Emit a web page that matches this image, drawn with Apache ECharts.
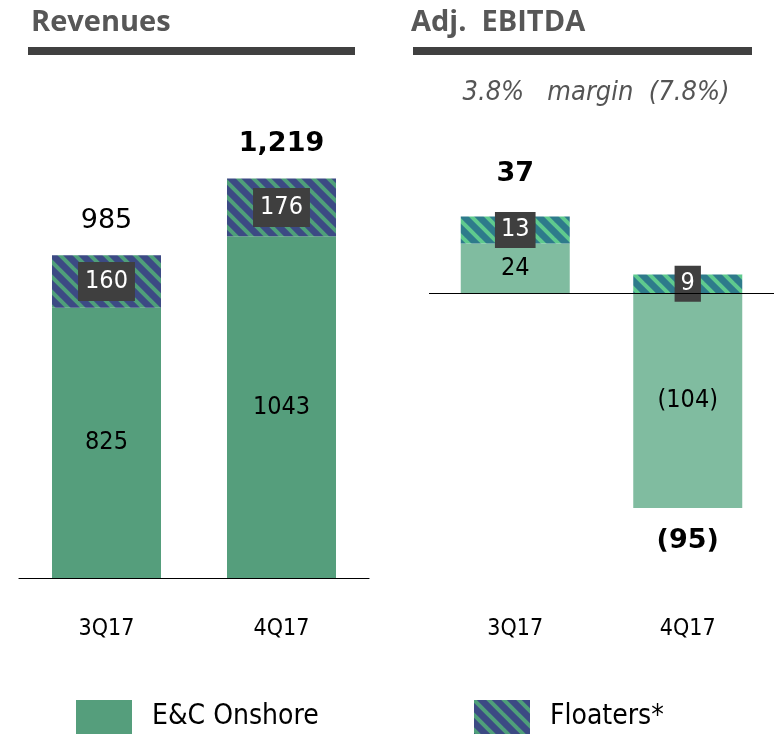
<!DOCTYPE html>
<html>
<head>
<meta charset="utf-8">
<script src="https://cdn.jsdelivr.net/npm/echarts@6/dist/echarts.min.js"></script>
<style>
  html, body { margin: 0; padding: 0; background: #fff; }
  #chart { width: 774px; height: 734px; }
</style>
</head>
<body>
<div id="chart"></div>
<script>
// Quarterly figures (€ million)
const categories = ['3Q17', '4Q17'];
const revOnshore = [825, 1043];
const revFloaters = [160, 176];
const ebitdaOnshore = [24, -104];
const ebitdaFloaters = [13, 9];
const marginText = '3.8%   margin  (7.8%)';

const COND = "'DejaVu Sans Condensed', 'Liberation Sans Narrow', 'Roboto Condensed', Roboto, sans-serif";
const SANS = "'DejaVu Sans', Verdana, sans-serif";

// Diagonal stripe fill used for the Floaters segments
function stripes(base, line, size, width) {
  const c = document.createElement('canvas');
  c.width = size; c.height = size;
  const g = c.getContext('2d');
  g.fillStyle = base;
  g.fillRect(0, 0, size, size);
  g.strokeStyle = line;
  g.lineWidth = width;
  for (const k of [-1, 0, 1]) {
    g.beginPath();
    g.moveTo(-size, -size + k * size);
    g.lineTo(2 * size, 2 * size + k * size);
    g.stroke();
  }
  return { image: c, repeat: 'repeat' };
}

const revGreen = '#559e7c';
const ebitdaGreen = '#80bca0';
const revStripes = stripes('#3c4a84', '#4f9f7a', 15, 4);
const ebitdaStripes = stripes('#2e7b8b', '#5fca8e', 15, 4);

const paren = v => (v < 0 ? '(' + Math.abs(v) + ')' : String(v));

const boxLabel = {
  show: true,
  position: 'inside',
  backgroundColor: '#3f3f3f',
  color: '#fff',
  fontFamily: COND,
  fontSize: 25,
  lineHeight: 28
};

const innerLabel = {
  show: true,
  position: 'inside',
  color: '#000',
  fontFamily: COND,
  fontSize: 25,
  formatter: p => paren(p.value)
};

// Totals: placed at the outer end of each stacked bar
function totals(onshore, floaters) {
  return categories.map((c, i) => {
    const vals = [onshore[i], floaters[i]];
    const pos = vals.filter(v => v > 0).reduce((a, b) => a + b, 0);
    const neg = vals.filter(v => v < 0).reduce((a, b) => a + b, 0);
    const total = onshore[i] + floaters[i];
    return { anchor: total >= 0 ? pos : neg, total };
  });
}

function totalSeries(list, xAxisIndex, yAxisIndex, styleFor) {
  return {
    type: 'scatter',
    xAxisIndex, yAxisIndex,
    symbolSize: 1,
    silent: true,
    z: 10,
    itemStyle: { color: 'rgba(0,0,0,0)' },
    data: list.map((t, i) => ({
      value: t.anchor,
      label: Object.assign({
        show: true,
        position: t.total >= 0 ? 'top' : 'bottom',
        color: '#000',
        opacity: 1,
        fontFamily: SANS,
        fontSize: 27,
        lineHeight: 32,
        formatter: () => t.total < 0 ? paren(t.total) : t.total.toLocaleString('en-US')
      }, styleFor(t, i))
    }))
  };
}

const revTotals = totals(revOnshore, revFloaters);
const ebitdaTotals = totals(ebitdaOnshore, ebitdaFloaters);

const chart = echarts.init(document.getElementById('chart'), null, { renderer: 'canvas' });

const titleStyle = { fontFamily: "'Open Sans', 'Noto Sans', sans-serif", fontWeight: 'bold', fontSize: 29, color: '#575757' };
const legendText = { fontFamily: COND, fontSize: 28, color: '#000', padding: [5, 0, 0, 15] };

chart.setOption({
  animation: false,
  backgroundColor: '#fff',
  title: [
    { text: 'Revenues', left: 31, top: 8, padding: 0, textStyle: titleStyle },
    { text: 'Adj.  EBITDA', left: 411, top: 8, padding: 0, textStyle: titleStyle },
    { text: marginText, left: 596, top: 79, padding: 0, textAlign: 'center',
      textStyle: { fontFamily: COND, fontStyle: 'italic', fontWeight: 'normal', fontSize: 27, color: '#555' } }
  ],
  graphic: [
    { type: 'rect', shape: { x: 28, y: 47, width: 327, height: 8 }, style: { fill: '#404040' } },
    { type: 'rect', shape: { x: 413, y: 47, width: 339, height: 8 }, style: { fill: '#404040' } }
  ],
  legend: [
    { data: ['E&C Onshore'], left: 76, top: 700, padding: 0, icon: 'rect', itemWidth: 56, itemHeight: 34,
      textStyle: legendText },
    { data: ['Floaters*'], left: 474, top: 700, padding: 0, icon: 'rect', itemWidth: 56, itemHeight: 34,
      textStyle: legendText }
  ],
  grid: [
    { left: 19, width: 350, top: 152, height: 426 },
    { left: 429, width: 350, top: 169, height: 372 }
  ],
  xAxis: [
    { type: 'category', gridIndex: 0, data: categories,
      axisLine: { lineStyle: { color: '#000', width: 1.2 } },
      axisTick: { show: false },
      axisLabel: { margin: 40, fontFamily: COND, fontSize: 23, color: '#000' } },
    { type: 'category', gridIndex: 1, data: categories,
      axisLine: { show: false, onZero: false },
      axisTick: { show: false },
      axisLabel: { margin: 77, fontFamily: COND, fontSize: 23, color: '#000' } }
  ],
  yAxis: [
    { type: 'value', gridIndex: 0, min: 0, max: 1300, show: false, splitLine: { show: false } },
    { type: 'value', gridIndex: 1, min: -120, max: 60, show: false, splitLine: { show: false } }
  ],
  series: [
    { name: 'E&C Onshore', type: 'bar', stack: 'rev', xAxisIndex: 0, yAxisIndex: 0,
      barWidth: 109, itemStyle: { color: revGreen },
      label: innerLabel, data: revOnshore },
    { name: 'Floaters*', type: 'bar', stack: 'rev', xAxisIndex: 0, yAxisIndex: 0,
      barWidth: 109, itemStyle: { color: revStripes },
      label: Object.assign({}, boxLabel, { padding: [6, 7, 5, 7], formatter: p => paren(p.value) }),
      data: revFloaters },
    { name: 'E&C Onshore', type: 'bar', stack: 'ebitda', xAxisIndex: 1, yAxisIndex: 1,
      barWidth: 109, itemStyle: { color: ebitdaGreen },
      label: innerLabel, data: ebitdaOnshore,
      markLine: { silent: true, symbol: 'none', label: { show: false },
        lineStyle: { color: '#000', width: 1.2, type: 'solid' }, data: [{ yAxis: 0 }] } },
    { name: 'Floaters*', type: 'bar', stack: 'ebitda', xAxisIndex: 1, yAxisIndex: 1,
      barWidth: 109, itemStyle: { color: ebitdaStripes },
      label: Object.assign({}, boxLabel, { padding: [4, 6, 4, 6], formatter: p => paren(p.value) }),
      data: ebitdaFloaters },
    totalSeries(revTotals, 0, 0, (t, i) => ({ distance: 18, fontWeight: i === 0 ? 'normal' : 'bold' })),
    totalSeries(ebitdaTotals, 1, 1, t => ({ distance: t.total >= 0 ? 26 : 17, fontWeight: 'bold' }))
  ]
});
</script>
</body>
</html>
